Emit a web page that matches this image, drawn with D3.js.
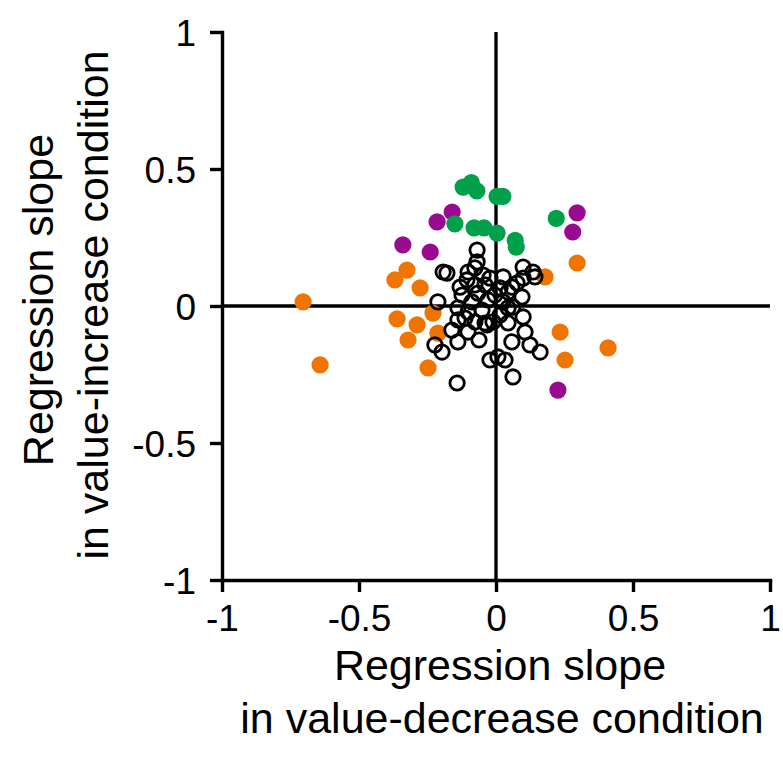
<!DOCTYPE html>
<html><head><meta charset="utf-8">
<script src="https://cdn.jsdelivr.net/npm/d3@7"></script>
<style>body{margin:0;background:#fff}svg{display:block}text{font-family:"Liberation Sans",Arial,sans-serif;fill:#000}</style>
</head><body>
<svg id="c" width="783" height="762"></svg>
<script>
const xTicks = [-1, -0.5, 0, 0.5, 1];
const yTicks = [-1, -0.5, 0, 0.5, 1];
const xTickLabels = ["-1", "-0.5", "0", "0.5", "1"];
const yTickLabels = ["-1", "-0.5", "0", "0.5", "1"];
const xTitle = ["Regression slope", "in value-decrease condition"];
const yTitle = ["Regression slope", "in value-increase condition"];

const greenX = [-0.12, -0.09, -0.07, 0.004, 0.025, -0.15, -0.08, -0.044, 0.004, 0.07, 0.074, 0.22];
const greenY = [0.434, 0.45, 0.42, 0.40, 0.40, 0.30, 0.285, 0.285, 0.266, 0.24, 0.215, 0.32];
const purpleX = [-0.34, -0.24, -0.215, -0.16, 0.296, 0.28, 0.226];
const purpleY = [0.223, 0.197, 0.307, 0.343, 0.34, 0.27, -0.307];
const orangeX = [-0.704, -0.642, -0.369, -0.325, -0.277, -0.361, -0.288, -0.321, -0.23, -0.212, -0.248, 0.179, 0.296, 0.234, 0.252, 0.409];
const orangeY = [0.015, -0.215, 0.095, 0.131, 0.066, -0.047, -0.069, -0.124, -0.026, -0.099, -0.226, 0.106, 0.157, -0.095, -0.197, -0.153];
const blackX = [-0.069, -0.193, -0.179, -0.069, -0.077, -0.102, -0.047, -0.106, -0.131, -0.077, -0.040, -0.124, -0.066, -0.088, -0.212, -0.139, -0.102, -0.139, -0.077, -0.040, -0.033, -0.102, -0.139, -0.223, -0.197, -0.022, -0.142,
  0.099, 0.135, 0.026, 0.099, 0.142, 0.058, 0.015, 0.095, 0.026, 0.062, 0.099, 0.015, 0.044, 0.106, 0.058, 0.124, 0.161, 0.033, 0.062, 0.007, -0.011,
  -0.029, -0.051, -0.004, 0.044, 0.077, -0.113, -0.161, -0.062, 0.044, -0.022];
const blackY = [0.204, 0.124, 0.120, 0.161, 0.139, 0.124, 0.113, 0.095, 0.069, 0.077, 0.077, 0.040, 0.047, 0.015, 0.015, -0.007, -0.022, -0.051, -0.058, -0.062, -0.069, -0.095, -0.131, -0.142, -0.168, -0.197, -0.281,
  0.142, 0.124, 0.106, 0.102, 0.106, 0.069, 0.066, 0.033, 0.015, -0.004, -0.040, -0.033, -0.062, -0.095, -0.131, -0.142, -0.168, -0.197, -0.259, -0.186, -0.058,
  0.022, -0.015, 0.040, 0.051, 0.084, -0.044, -0.088, -0.124, -0.007, 0.102];

const svg = d3.select("#c");
const x = d3.scaleLinear().domain([-1, 1]).range([222, 770]);
const y = d3.scaleLinear().domain([-1, 1]).range([580, 32]);
const tf = '"Liberation Sans",Arial,sans-serif';
const SW = 3.4;

const g = svg.append("g");
const xAxis = d3.axisBottom(x).tickValues(xTicks).tickFormat((d, i) => xTickLabels[i]).tickSize(12).tickPadding(6).tickSizeOuter(0);
const yAxis = d3.axisLeft(y).tickValues(yTicks).tickFormat((d, i) => yTickLabels[i]).tickSize(12).tickPadding(14).tickSizeOuter(0);
const gx = g.append("g").attr("transform", `translate(0,${y(-1)})`).call(xAxis);
const gy = g.append("g").attr("transform", `translate(${x(-1)},0)`).call(yAxis);
[gx, gy].forEach(a => {
  a.select(".domain").attr("stroke", "#000").attr("stroke-width", SW).attr("stroke-linecap", "square");
  a.selectAll(".tick line").attr("stroke", "#000").attr("stroke-width", SW);
  a.selectAll(".tick text").style("font-size", "37px").style("font-family", tf).attr("fill", "#000");
});
gx.selectAll(".tick text").attr("dy", "0.88em");
gy.selectAll(".tick text").attr("dy", "0.36em");
g.append("line").attr("x1", x(-1)).attr("x2", x(1)).attr("y1", y(0)).attr("y2", y(0)).attr("stroke", "#000").attr("stroke-width", SW);
g.append("line").attr("x1", x(0)).attr("x2", x(0)).attr("y1", y(1)).attr("y2", y(-1)).attr("stroke", "#000").attr("stroke-width", SW);

function filled(xs, ys, color) {
  g.append("g").selectAll("circle").data(xs.map((v, i) => [v, ys[i]])).join("circle")
    .attr("cx", d => x(d[0])).attr("cy", d => y(d[1])).attr("r", 8.6).attr("fill", color);
}
filled(orangeX, orangeY, "#ef7500");
filled(purpleX, purpleY, "#990a90");
filled(greenX, greenY, "#00a04b");
g.append("g").selectAll("circle").data(blackX.map((v, i) => [v, blackY[i]])).join("circle")
  .attr("cx", d => x(d[0])).attr("cy", d => y(d[1])).attr("r", 7.2)
  .attr("fill", "none").attr("stroke", "#000").attr("stroke-width", 2.8);

svg.append("text").attr("x", 500).attr("y", 680).attr("text-anchor", "middle").style("font-size", "43px").style("font-family", tf).text(xTitle[0]);
svg.append("text").attr("x", 502).attr("y", 733).attr("text-anchor", "middle").style("font-size", "43px").style("font-family", tf).text(xTitle[1]);
svg.append("text").attr("transform", "translate(53,300) rotate(-90)").attr("text-anchor", "middle").style("font-size", "43px").style("font-family", tf).text(yTitle[0]);
svg.append("text").attr("transform", "translate(108,305) rotate(-90)").attr("text-anchor", "middle").style("font-size", "43px").style("font-family", tf).text(yTitle[1]);
</script>
</body></html>
